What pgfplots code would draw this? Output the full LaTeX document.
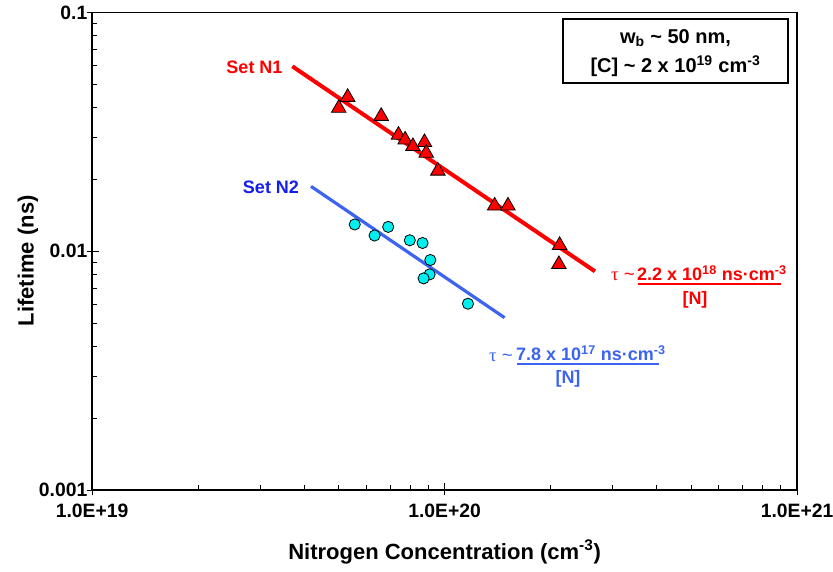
\documentclass[border=0pt]{standalone}
\usepackage{pgfplots}
\pgfplotsset{compat=1.18}
\usepackage{fontspec}
\setmainfont{Liberation Sans}
\newfontfamily\seriffont{Liberation Serif}
\definecolor{lineblue}{RGB}{60,100,240}
\definecolor{textblue}{RGB}{20,30,235}
\definecolor{cyanfill}{RGB}{0,240,240}
\newcommand\tl{\bfseries\fontsize{14.5}{16}\selectfont}
\begin{document}
\begin{tikzpicture}
\begin{axis}[
 scale only axis, width=528.75pt, height=358.125pt,
 xmode=log, ymode=log, xmin=1e19, xmax=1e21, ymin=0.001, ymax=0.1,
 xtick={1e19,1e20,1e21}, xticklabels={{\tl 1.0E+19},{\tl 1.0E+20},{\tl 1.0E+21}},
 ytick={0.001,0.01,0.1}, yticklabels={{\tl 0.001},{\tl 0.01},{\tl 0.1}},
 tick pos=left, tick align=inside,
 major tick length=5pt, minor tick length=3.5pt,
 extra x ticks={1e19,1e20,1e21}, extra x tick labels={,,},
 extra y ticks={0.001,0.01,0.1}, extra y tick labels={,,},
 extra tick style={tick align=outside, major tick length=4pt},
 tick style={black, line width=0.7pt},
 axis line style={line width=0.9pt},
 xticklabel style={yshift=-7pt},
 yticklabel style={xshift=0pt},
 xlabel={Nitrogen Concentration (cm\textsuperscript{-3})},
 ylabel={Lifetime (ns)},
 label style={font=\bfseries\fontsize{16.5}{19}\selectfont},
 xlabel style={at={(axis description cs:0.5,-0.13)}, anchor=center},
 ylabel style={at={(axis description cs:-0.091,0.48)}, anchor=center},
]
\addplot[red, line width=3pt] coordinates {(3.7e19,0.0595) (2.67e20,0.00824)};
\addplot[lineblue, line width=2.4pt] coordinates {(4.18e19,0.0187) (1.48e20,0.00527)};
\addplot[only marks, mark=triangle*, mark size=6.3pt, mark options={fill=red, draw=black, line width=0.6pt}] coordinates {
(5.01e19,0.0398) (5.31e19,0.0442) (6.61e19,0.0368) (7.40e19,0.0307) (7.73e19,0.0293)
(8.13e19,0.0275) (8.77e19,0.0286) (8.87e19,0.0258) (9.57e19,0.0217) (1.387e20,0.0155)
(1.513e20,0.0155) (2.12e20,0.0106) (2.11e20,0.00882)};
\addplot[only marks, mark=*, mark size=4.2pt, mark options={fill=cyanfill, draw=black, line width=0.6pt}] coordinates {
(5.56e19,0.01295) (6.33e19,0.01164) (6.92e19,0.01265) (7.97e19,0.01112) (8.66e19,0.01083)
(9.11e19,0.00919) (9.07e19,0.00800) (8.72e19,0.00770) (1.165e20,0.00603)};
\end{axis}
\begin{scope}[x=0.75pt,y=-0.75pt,xshift=-69pt,yshift=367.5pt]
\node[red, font=\bfseries\fontsize{13.5}{15}\selectfont] at (254.5,67.5) {Set N1};
\node[textblue, font=\bfseries\fontsize{13.5}{15}\selectfont] at (271,187) {Set N2};
\draw[line width=0.8pt, fill=white] (563,19) rectangle (788,83);
\node[font=\bfseries\fontsize{15}{17}\selectfont] at (675.5,38) {w\textsubscript{b} \textasciitilde{} 50 nm,};
\node[font=\bfseries\fontsize{15}{17}\selectfont] at (675.5,66) {[C] \textasciitilde{} 2 x 10\textsuperscript{19} cm\textsuperscript{-3}};
% red formula
\node[red, font=\fontsize{14}{16}\selectfont] at (623,276) {{\seriffont τ} \textasciitilde};
\node[red, anchor=base, inner sep=0pt, font=\bfseries\fontsize{13.5}{16}\selectfont] at (712,281) {2.2 x 10\textsuperscript{18} ns·cm\textsuperscript{-3}};
\draw[red, line width=1.5pt] (638,284) -- (781,284);
\node[red, font=\bfseries\fontsize{13.5}{16}\selectfont] at (695,299.5) {[N]};
% blue formula
\node[lineblue, font=\fontsize{14}{16}\selectfont] at (501,357) {{\seriffont τ} \textasciitilde};
\node[lineblue, anchor=base, inner sep=0pt, font=\bfseries\fontsize{13.5}{16}\selectfont] at (591,361) {7.8 x 10\textsuperscript{17} ns·cm\textsuperscript{-3}};
\draw[lineblue, line width=1.5pt] (517,364) -- (659,364);
\node[lineblue, font=\bfseries\fontsize{13.5}{16}\selectfont] at (568,378.5) {[N]};
\pgfresetboundingbox
\path[use as bounding box] (0,0) rectangle (833,572);
\end{scope}
\end{tikzpicture}
\end{document}
